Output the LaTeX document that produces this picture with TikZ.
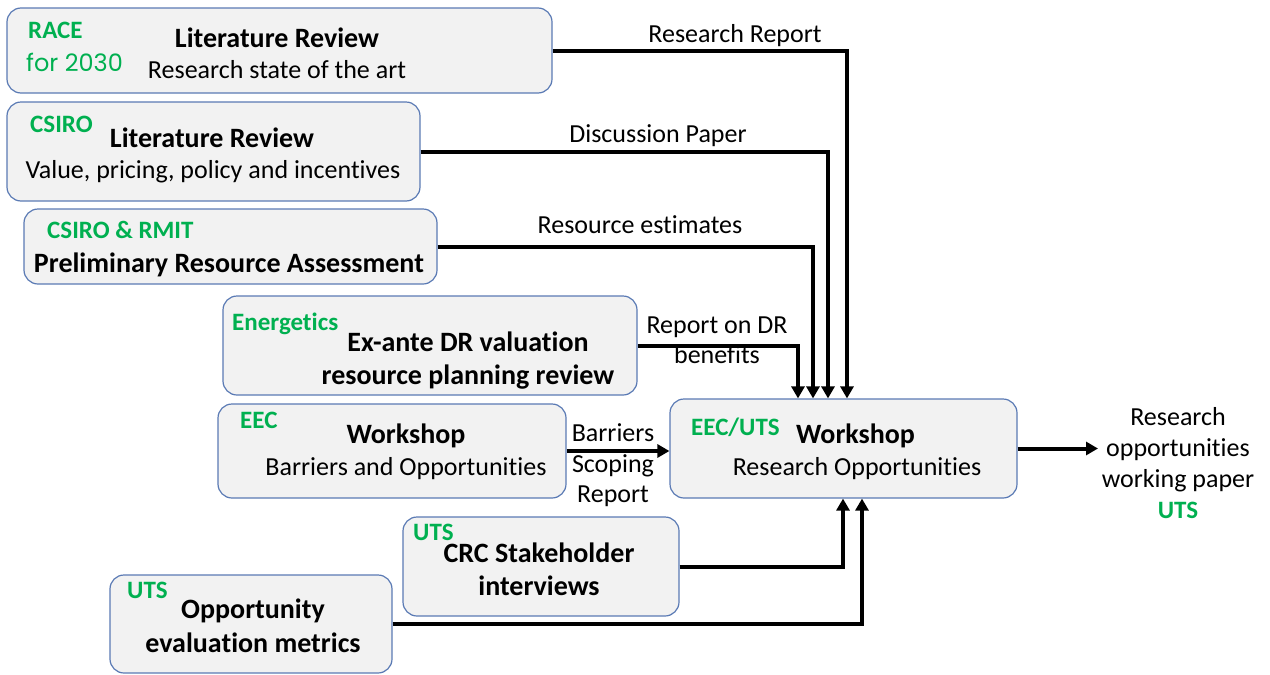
\documentclass[tikz,border=0pt]{standalone}
\usepackage{fontspec}
\setmainfont{Carlito}[Ligatures=NoCommon]
\newfontfamily\gothicfont{Poppins}
\usetikzlibrary{arrows.meta}
\definecolor{boxfill}{HTML}{F2F2F2}
\definecolor{boxline}{HTML}{5A7AB4}
\definecolor{orggreen}{HTML}{00B050}
\begin{document}
\begin{tikzpicture}[x=1pt,y=-1pt,
 box/.style={draw=boxline, fill=boxfill, line width=1.2pt, rounded corners=14pt, inner sep=0pt},
 org/.style={font=\fontsize{25}{30}\selectfont\bfseries, text=orggreen, anchor=base west, inner sep=0pt},
 ttl/.style={font=\fontsize{28}{33}\selectfont\bfseries, anchor=base, inner sep=0pt},
 sub/.style={font=\fontsize{26}{31}\selectfont, anchor=base, inner sep=0pt},
 lbl/.style={font=\fontsize{26}{31}\selectfont, anchor=base, inner sep=0pt},
 arr/.style={line width=4pt, -{Triangle[length=12pt,width=13pt]}},
]
\useasboundingbox (0,0) rectangle (1270,675);
% boxes
\node[box, minimum width=545pt, minimum height=85pt] (b1) at (279.5,50.5) {};
\node[box, minimum width=413pt, minimum height=99pt] (b2) at (213.5,151.5) {};
\node[box, minimum width=413pt, minimum height=75pt] (b3) at (230.5,246.5) {};
\node[box, minimum width=414pt, minimum height=99pt] (b4) at (430,345.5) {};
\node[box, minimum width=348pt, minimum height=94pt] (b5) at (392,451) {};
\node[box, minimum width=347pt, minimum height=99pt] (b6) at (843.5,448.5) {};
\node[box, minimum width=276pt, minimum height=99pt] (b7) at (541,566.5) {};
\node[box, minimum width=282pt, minimum height=98pt] (b8) at (251,624) {};
% box 1
\node[org] (o1) at (28,38) {RACE};
\node[anchor=base west, inner sep=0pt, text=orggreen, font=\gothicfont\fontsize{24}{29}\selectfont] (o1b) at (26,71) {for 2030};
\node[ttl] (t1) at (277,47) {Literature Review};
\node[sub] (s1) at (277,78) {Research state of the art};
% box 2
\node[org] (o2) at (30,132) {CSIRO};
\node[ttl] (t2) at (212,147) {Literature Review};
\node[sub] (s2) at (213,178) {Value, pricing, policy and incentives};
% box 3
\node[org] (o3) at (47,238) {CSIRO \& RMIT};
\node[ttl] (t3) at (229,272) {Preliminary Resource Assessment};
% box 4
\node[org] (o4) at (232,330) {Energetics};
\node[ttl] (t4) at (468,351) {Ex-ante DR valuation};
\node[ttl] (t4b) at (468,384) {resource planning review};
% box 5
\node[org] (o5) at (240,428) {EEC};
\node[ttl] (t5) at (406,443) {Workshop};
\node[sub] (s5) at (406,475) {Barriers and Opportunities};
% box 6
\node[org] (o6) at (691,435) {EEC/UTS};
\node[ttl, anchor=base west] (t6) at (796,443) {Workshop};
\node[sub] (s6) at (857,475) {Research Opportunities};
% box 7
\node[org] (o7) at (413,540) {UTS};
\node[ttl] (t7) at (539,562) {CRC Stakeholder};
\node[ttl] (t7b) at (539,595) {interviews};
% box 8
\node[org] (o8) at (127,598) {UTS};
\node[ttl] (t8) at (253,618) {Opportunity};
\node[ttl] (t8b) at (253,652) {evaluation metrics};
% connector labels
\node[lbl] (l1) at (735,42) {Research Report};
\node[lbl] (l2) at (658,142) {Discussion Paper};
\node[lbl] (l3) at (640,233) {Resource estimates};
\node[lbl] (l4) at (717,333) {Report on DR};
\node[lbl] (l4b) at (717,363) {benefits};
\node[lbl] (l5) at (613,441) {Barriers};
\node[lbl] (l5b) at (613,472) {Scoping};
\node[lbl] (l5c) at (613,502) {Report};
% output text
\node[lbl] (r1) at (1178,425) {Research};
\node[lbl] (r2) at (1178,456) {opportunities};
\node[lbl] (r3) at (1178,487) {working paper};
\node[org, anchor=base] (r4) at (1178,518) {UTS};
% connectors
\draw[arr] (b1.east) -| ([xshift=3.5pt]b6.north);
\draw[arr] (b2.east) -| ([xshift=-15.5pt]b6.north);
\draw[arr] (b3.east) -| ([xshift=-30.5pt]b6.north);
\draw[arr] (b4.east) -| ([xshift=-45.5pt]b6.north);
\draw[arr] (b5.east) -- (b5.east -| b6.west);
\draw[arr] (b7.east) -| ([xshift=-0.5pt]b6.south);
\draw[arr] (b8.east) -| ([xshift=18.5pt]b6.south);
\coordinate (outend) at (1098,448.5);
\draw[arr] (b6.east) -- (outend);
\end{tikzpicture}
\end{document}
